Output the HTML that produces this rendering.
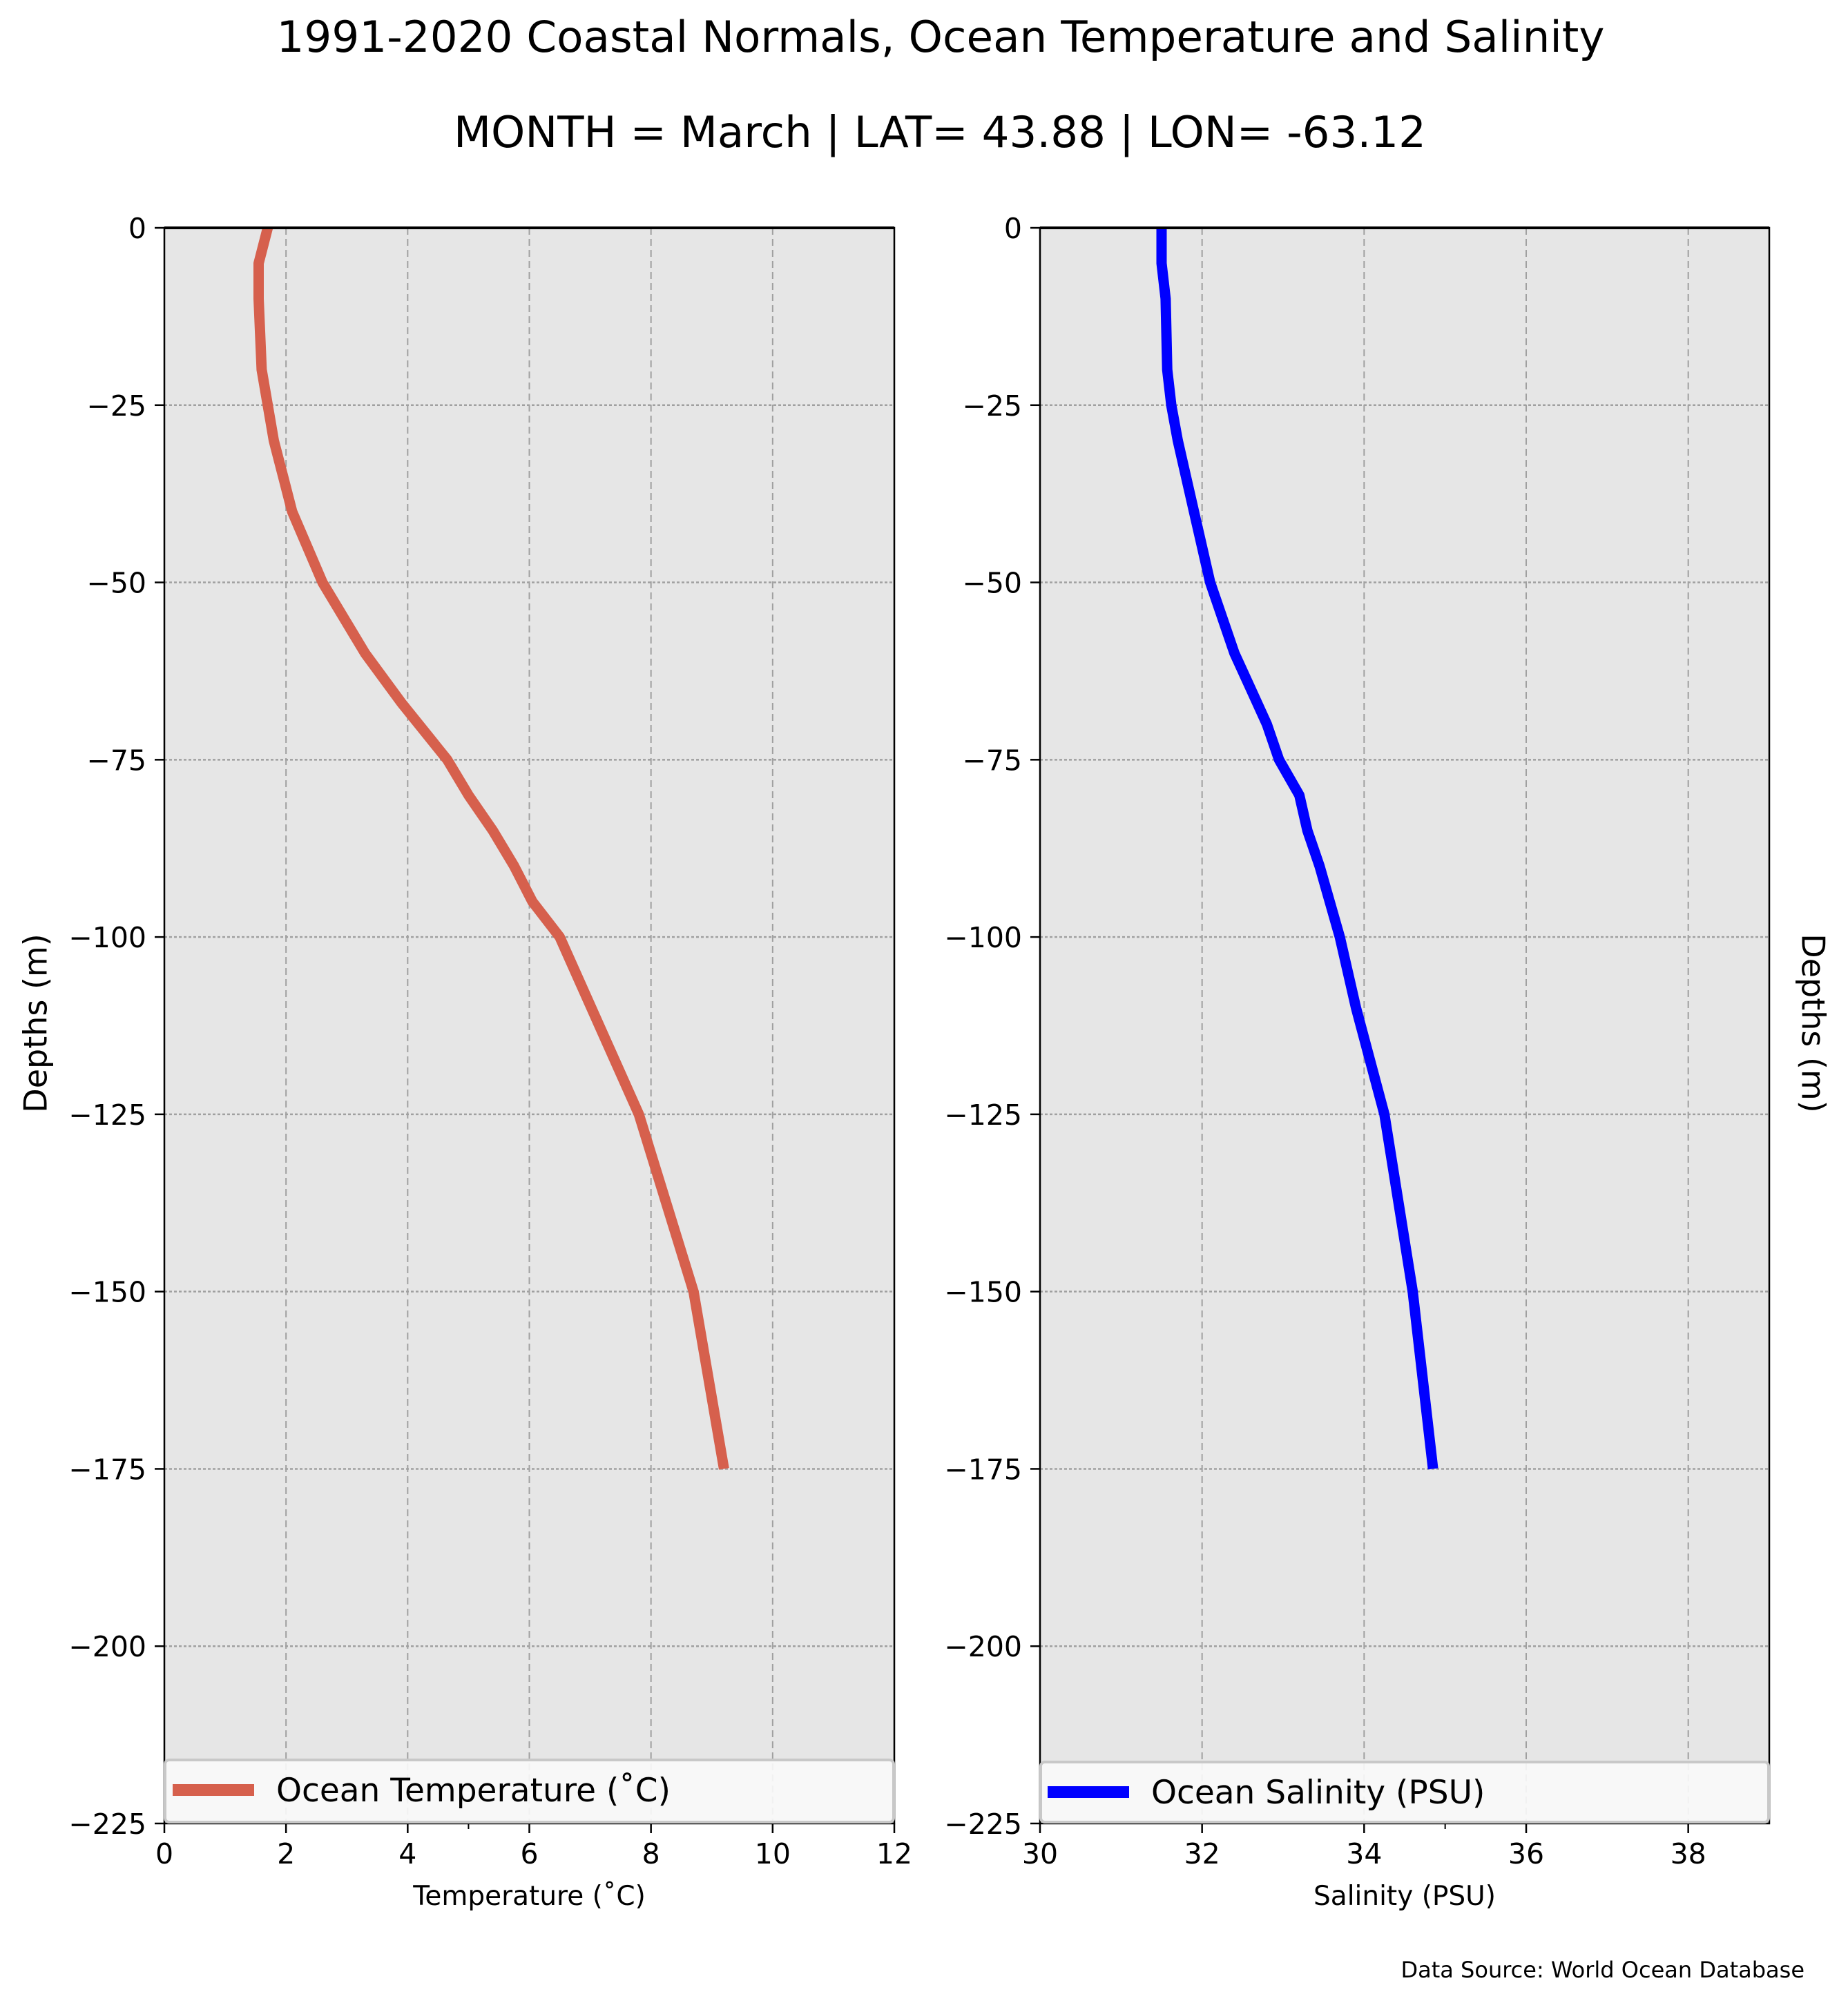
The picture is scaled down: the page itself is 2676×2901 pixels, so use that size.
<!DOCTYPE html>
<html><head><meta charset="utf-8"><style>
html,body{margin:0;padding:0;background:#fff}
svg{display:block;font-family:"DejaVu Sans","Liberation Sans",sans-serif}
</style></head><body>
<svg id="chart" width="2676" height="2901" viewBox="0 0 2676 2901" xmlns="http://www.w3.org/2000/svg">
<text x="1362" y="75" font-size="62" text-anchor="middle" textLength="1923" lengthAdjust="spacingAndGlyphs">1991-2020 Coastal Normals, Ocean Temperature and Salinity</text>
<text x="1361" y="213" font-size="62" text-anchor="middle" textLength="1408" lengthAdjust="spacingAndGlyphs">MONTH = March | LAT= 43.88 | LON= -63.12</text>
<g id="left"></g>
<g id="right"></g>
<text x="55" y="1482" font-size="46" text-anchor="middle" transform="rotate(-90 55 1482)" dominant-baseline="middle">Depths (m)</text>
<text x="2622" y="1482" font-size="46" text-anchor="middle" transform="rotate(90 2622 1482)" dominant-baseline="middle">Depths (m)</text>
<text x="2613" y="2864" font-size="32" text-anchor="end">Data Source: World Ocean Database</text>
</svg>
<script>
const tempDepths = [0,-5,-10,-20,-30,-35,-40,-45,-50,-60,-67,-75,-80,-85,-90,-95,-100,-125,-150,-175];
const tempValues = [1.7,1.55,1.55,1.6,1.8,1.95,2.1,2.35,2.6,3.3,3.9,4.65,5.0,5.4,5.75,6.05,6.5,7.8,8.7,9.2];
const salDepths = [0,-5,-10,-20,-25,-30,-35,-40,-50,-55,-60,-65,-70,-75,-80,-85,-90,-100,-110,-125,-150,-175];
const salValues = [31.5,31.5,31.55,31.57,31.62,31.7,31.8,31.9,32.1,32.25,32.4,32.6,32.8,32.95,33.2,33.3,33.45,33.7,33.9,34.25,34.6,34.85];
const yTicks = [0,-25,-50,-75,-100,-125,-150,-175,-200,-225];
const tempXTicks = [0,2,4,6,8,10,12];
const salXTicks = [30,32,34,36,38];

const NS='http://www.w3.org/2000/svg';
function mk(parent,tag,attrs,text){const e=document.createElementNS(NS,tag);for(const k in attrs)e.setAttribute(k,attrs[k]);if(text!==undefined)e.textContent=text;parent.appendChild(e);return e;}

function panel(g,cfg){
  const {x0,x1,y0,y1,xmin,xmax,xticks,minor,xs,ys,color,label,xlabel,legTop,swX,txtX,prefix}=cfg;
  const sx=v=>x0+(v-xmin)/(xmax-xmin)*(x1-x0);
  const sy=d=>y0+(0-d)/225*(y1-y0);
  const bg=mk(g,'rect',{x:x0,y:y0,width:x1-x0,height:y1-y0,fill:'#e6e6e6'});
  
  
  xticks.forEach(t=>{
    const X=sx(t);
    if(t!==xmin&&t!==xmax){const gl=mk(g,'line',{x1:X,x2:X,y1:y0,y2:y1,stroke:'#a0a0a0','stroke-width':2,'stroke-dasharray':'10,6'});
      
      }
    const tk=mk(g,'line',{x1:X,x2:X,y1:y1,y2:y1+14,stroke:'#000','stroke-width':2.5});
    
    
    const tl=mk(g,'text',{x:X,y:y1+58,'font-size':41,'text-anchor':'middle'},String(t));
    
    
  });
  const mt=mk(g,'line',{x1:sx(minor),x2:sx(minor),y1:y1,y2:y1+8,stroke:'#000','stroke-width':2});
  
  
  yTicks.forEach(t=>{
    const Y=sy(t);
    if(t!==0&&t!==-225){const gl=mk(g,'line',{x1:x0,x2:x1,y1:Y,y2:Y,stroke:'#a0a0a0','stroke-width':2.5,'stroke-dasharray':'4,3'});
      
      }
    const tk=mk(g,'line',{x1:x0-14,x2:x0,y1:Y,y2:Y,stroke:'#000','stroke-width':2.5});
    
    
    const tl=mk(g,'text',{x:x0-26,y:Y+15,'font-size':41,'text-anchor':'end'},(t<0?'\u2212'+(-t):String(t)));
    
    
  });
  const pts=xs.map((v,i)=>sx(v).toFixed(1)+','+sy(ys[i]).toFixed(1)).join(' ');
  const ln=mk(g,'polyline',{points:pts,fill:'none',stroke:color,'stroke-width':15,'stroke-linejoin':'round'});
  
  
  const fr=mk(g,'rect',{x:x0,y:y0,width:x1-x0,height:y1-y0,fill:'none',stroke:'#000','stroke-width':2.5});
  
  
  const top=mk(g,'line',{x1:x0,x2:x1,y1:y0,y2:y0,stroke:'#000','stroke-width':4});
  
  
  const lg=mk(g,'g',{});
  
  
  mk(lg,'rect',{x:x0+1,y:legTop,width:x1-x0-2,height:y1-legTop-2,rx:6,fill:'#fafafa','fill-opacity':0.9,stroke:'#c8c8c8','stroke-width':4});
  const sw=mk(lg,'rect',{x:swX,y:legTop+35,width:118,height:17,fill:color});
  
  
  const lt=mk(lg,'text',{x:txtX,y:legTop+60,'font-size':47},label);
  
  
  const xl=mk(g,'text',{x:(x0+x1)/2,y:y1+118,'font-size':39,'text-anchor':'middle'},xlabel);
  
  
}
panel(document.getElementById('left'),{x0:238,x1:1295,y0:330,y1:2641,xmin:0,xmax:12,xticks:tempXTicks,minor:5,xs:tempValues,ys:tempDepths,color:'#d6604d',label:'Ocean Temperature (\u02DAC)',xlabel:'Temperature (\u02DAC)',legTop:2549,swX:250,txtX:400,prefix:'temperature'});
panel(document.getElementById('right'),{x0:1506,x1:2562,y0:330,y1:2641,xmin:30,xmax:39,xticks:salXTicks,minor:35,xs:salValues,ys:salDepths,color:'#0000ff',label:'Ocean Salinity (PSU)',xlabel:'Salinity (PSU)',legTop:2552,swX:1517,txtX:1667,prefix:'salinity'});
</script>
</body></html>
